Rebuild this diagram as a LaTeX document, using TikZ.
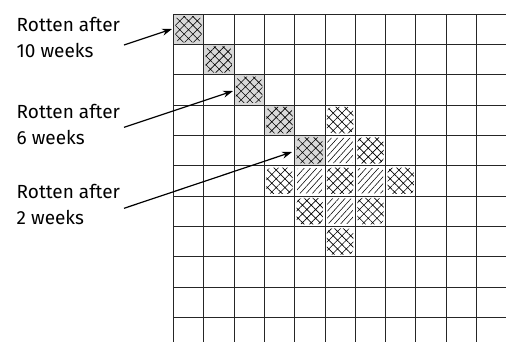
\documentclass[tikz,border=0pt]{standalone}
\usepackage{fontspec}
\setmainfont{Fira Sans}
\usetikzlibrary{patterns.meta,arrows.meta}
\tikzset{
  gridline/.style={line width=0.9pt,black!85},
  rotcell/.style={fill=black!15},
  crosshatchcell/.style={pattern={Hatch[angle=45,distance=6.2pt,line width=0.65pt]},pattern color=black},
  diaghatchcell/.style={pattern={Lines[angle=48,distance=4.6pt,line width=0.55pt]},pattern color=black},
  lbl/.style={font=\fontsize{19}{25.6}\selectfont,align=left,inner sep=0pt,anchor=base west},
  pointer/.style={line width=1.2pt,-{Stealth[length=10pt,width=7pt]}}
}
\newcommand{\cellx}[1]{173.3+#1*30.33}
\newcommand{\celly}[1]{14+#1*30.33}
\newcommand{\graycell}[2]{\fill[rotcell] ({\cellx{#1}},{\celly{#2}}) rectangle ({\cellx{#1}+30.33},{\celly{#2}+30.33});}
\newcommand{\xcell}[2]{\fill[crosshatchcell,rounded corners=5pt] ({\cellx{#1}+2},{\celly{#2}+2}) rectangle ({\cellx{#1}+28.3},{\celly{#2}+28.3});}
\newcommand{\dcell}[2]{\fill[diaghatchcell,rounded corners=2pt] ({\cellx{#1}+2.5},{\celly{#2}+2.5}) rectangle ({\cellx{#1}+27.8},{\celly{#2}+27.8});}
\begin{document}
\begin{tikzpicture}[x=1pt,y=-1pt]
\useasboundingbox (0,0) rectangle (506,341);
\begin{scope}
\clip (0,0) rectangle (506,341);
% gray rotten cells
\foreach \i in {0,...,4} {\graycell{\i}{\i}}
% crosshatch cells
\foreach \i in {0,...,4} {\xcell{\i}{\i}}
\foreach \i/\j in {5/3, 6/4, 3/5, 5/5, 7/5, 4/6, 6/6, 5/7} {\xcell{\i}{\j}}
% diagonal hatch cells
\foreach \i/\j in {5/4, 4/5, 6/5, 5/6} {\dcell{\i}{\j}}
% grid
\foreach \k in {0,...,11} {
  \draw[gridline] ({\cellx{\k}},14) -- ({\cellx{\k}},345);
  \draw[gridline] (173.3,{\celly{\k}}) -- (510,{\celly{\k}});
}
\end{scope}
% labels
\node[lbl] (l1) at (16.5,57.3) {Rotten after\\10 weeks};
\node[lbl] (l2) at (16.5,144.3) {Rotten after\\6 weeks};
\node[lbl] (l3) at (16.5,224.3) {Rotten after\\2 weeks};
\coordinate (s1) at (124,45);
\coordinate (t1) at (172,29);
\coordinate (s2) at (124,127.3);
\coordinate (t2) at (233,91);
\coordinate (s3) at (124,208.3);
\coordinate (t3) at (292,152);
\draw[pointer] (s1) -- (t1);
\draw[pointer] (s2) -- (t2);
\draw[pointer] (s3) -- (t3);
\end{tikzpicture}
\end{document}
